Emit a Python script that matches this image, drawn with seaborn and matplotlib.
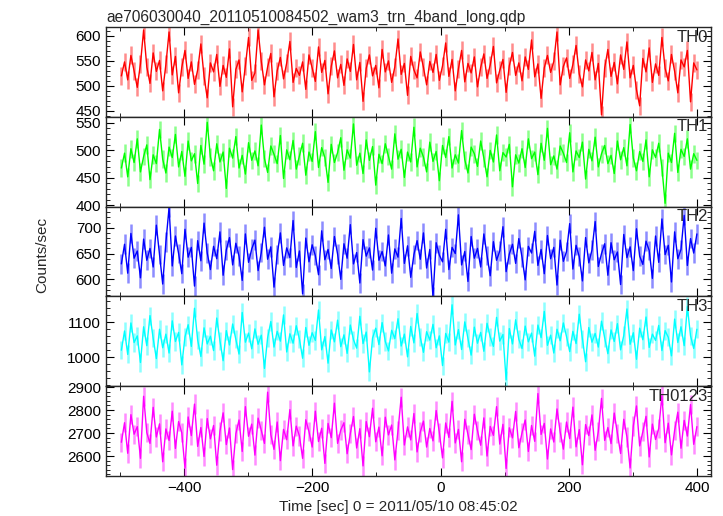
import matplotlib
matplotlib.use("Agg")
import matplotlib.pyplot as plt
from matplotlib.ticker import AutoMinorLocator, MultipleLocator
import numpy as np
import pandas as pd
import seaborn as sns

# Dados (valores aproximados, bins de ~5 s) ----------------------------------------------------
titulo = "ae706030040_20110510084502_wam3_trn_4band_long.qdp"
bandas = ["TH0", "TH1", "TH2", "TH3", "TH0123"]
cores = ["#ff0000", "#00ff00", "#0000ff", "#00ffff", "#ff00ff"]
inicio_t, fim_t = -498, 400

th0 = [520, 548, 512, 561, 530, 497, 544, 612, 538, 505, 566, 529, 551, 490,
       543, 608, 522, 559, 486, 537, 571, 515, 548, 503, 532, 584, 519, 476,
       546, 528, 563, 499, 541, 517, 574, 458, 533, 552, 488, 540, 597, 511,
       526, 612, 549, 502, 538, 565, 478, 530, 557, 514, 546, 589, 507, 535,
       521, 548, 493, 562, 536, 509, 578, 527, 551, 484, 539, 570, 516, 543,
       501, 554, 529, 583, 512, 547, 469, 535, 562, 520, 541, 496, 573, 528,
       550, 507, 538, 594, 523, 545, 481, 559, 532, 516, 568, 537, 502, 549,
       527, 563, 511, 540, 586, 519, 553, 490, 534, 571, 508, 545, 526, 558,
       498, 537, 564, 515, 542, 579, 506, 531, 553, 487, 540, 567, 521, 546,
       510, 558, 533, 592, 518, 544, 475, 536, 561, 527, 549, 608, 502, 539,
       556, 515, 543, 581, 524, 498, 552, 530, 567, 512, 545, 442, 536, 573,
       519, 547, 504, 562, 533, 588, 516, 541, 492, 460, 555, 528, 576, 507,
       544, 521, 597, 535, 510, 563, 529, 486, 552, 538, 571, 468, 546, 532]

th1 = [468, 495, 452, 503, 478, 521, 461, 489, 510, 447, 492, 476, 538, 484,
       459, 506, 487, 529, 470, 498, 453, 517, 481, 494, 440, 509, 475, 551,
       488, 463, 512, 479, 497, 431, 504, 486, 525, 468, 491, 457, 514, 482,
       499, 472, 546, 485, 460, 508, 493, 476, 527, 449, 501, 483, 518, 466,
       490, 513, 455, 497, 480, 534, 469, 505, 487, 442, 511, 478, 496, 523,
       464, 501, 486, 548, 473, 495, 458, 519, 482, 507, 437, 493, 476, 512,
       489, 466, 530, 484, 502, 451, 497, 479, 542, 470, 504, 488, 461, 515,
       480, 498, 445, 509, 487, 525, 468, 492, 477, 536, 483, 459, 506, 494,
       471, 517, 486, 452, 500, 479, 528, 463, 496, 488, 511, 434, 492, 477,
       503, 469, 521, 485, 497, 456, 513, 482, 540, 474, 490, 466, 508, 495,
       478, 532, 461, 499, 487, 515, 448, 502, 481, 524, 470, 494, 509, 476,
       491, 458, 517, 483, 505, 472, 547, 486, 463, 498, 480, 519, 452, 501,
       487, 513, 469, 404, 495, 478, 531, 460, 502, 489, 521, 466, 494, 482]

th2 = [630, 668, 612, 689, 641, 655, 603, 678, 637, 660, 624, 705, 648, 591,
       672, 739, 626, 684, 650, 611, 697, 643, 662, 587, 675, 636, 709, 651,
       619, 664, 640, 692, 608, 657, 681, 628, 670, 645, 598, 688, 633, 659,
       676, 617, 652, 701, 639, 663, 585, 648, 690, 627, 661, 642, 714, 623,
       655, 572, 680, 634, 667, 646, 609, 694, 638, 658, 621, 683, 649, 600,
       669, 641, 706, 630, 652, 593, 677, 645, 661, 618, 699, 637, 654, 626,
       686, 612, 659, 643, 718, 631, 665, 604, 648, 675, 639, 690, 622, 658,
       566, 671, 647, 634, 697, 619, 662, 650, 725, 628, 654, 596, 683, 641,
       660, 624, 688, 646, 607, 673, 637, 655, 702, 615, 649, 668, 631, 679,
       643, 599, 664, 651, 693, 627, 658, 611, 685, 640, 662, 589, 676, 635,
       654, 708, 620, 666, 644, 597, 681, 632, 657, 712, 625, 650, 669, 608,
       671, 638, 653, 590, 687, 642, 663, 617, 698, 645, 629, 674, 656, 602,
       684, 633, 717, 648, 666, 595, 692, 640, 658, 724, 627, 679, 651, 688]

th3 = [1020, 1075, 1008, 1098, 1042, 1061, 985, 1087, 1033, 1119, 1054, 996, 1080, 1027,
       1066, 1012, 1104, 1045, 1071, 978, 1058, 1093, 1031, 1140, 1049, 1002, 1084, 1038,
       1060, 1019, 1112, 1047, 990, 1076, 1035, 1095, 1051, 1009, 1128, 1043, 1069, 1024,
       1081, 1037, 1063, 968, 1056, 1102, 1029, 1074, 1046, 1121, 1015, 1067, 1040, 1090,
       1052, 997, 1085, 1034, 1070, 1048, 1135, 1021, 1059, 983, 1078, 1044, 1106, 1030,
       1064, 1011, 1092, 1050, 1026, 1117, 1039, 1072, 958, 1055, 1083, 1036, 1099, 1045,
       1018, 1077, 1053, 1110, 1032, 1066, 1001, 1088, 1041, 1125, 1057, 1014, 1073, 1049,
       1094, 1027, 1061, 976, 1068, 1043, 1150, 1035, 1079, 1022, 1101, 1054, 1006, 1086,
       1040, 1071, 1017, 1097, 1058, 1031, 1114, 1046, 1065, 935, 1082, 1038, 1107, 1051,
       1025, 1089, 1044, 1069, 1003, 1092, 1056, 1131, 1034, 1063, 1012, 1080, 1047, 1098,
       1059, 1016, 1074, 1039, 1123, 1052, 987, 1085, 1043, 1068, 1029, 1103, 1055, 1010,
       1078, 1045, 1096, 1021, 1062, 1138, 1037, 1070, 994, 1083, 1050, 1115, 1028, 1066,
       1048, 1091, 1019, 1076, 1057, 1004, 1109, 1042, 1087, 1033, 1145, 1061, 1025, 1080]

th0123 = [2660, 2745, 2612, 2780, 2695, 2728, 2590, 2860, 2702, 2655, 2812, 2683, 2740, 2575,
          2718, 2668, 2795, 2633, 2750, 2701, 2548, 2770, 2689, 2826, 2642, 2724, 2598, 2763,
          2675, 2733, 2560, 2708, 2788, 2650, 2722, 2541, 2697, 2757, 2620, 2815, 2686, 2739,
          2604, 2765, 2712, 2655, 2878, 2693, 2629, 2748, 2580, 2716, 2671, 2802, 2644, 2730,
          2687, 2590, 2758, 2706, 2639, 2795, 2663, 2721, 2568, 2742, 2680, 2830, 2655, 2713,
          2745, 2610, 2698, 2772, 2635, 2719, 2557, 2750, 2684, 2808, 2662, 2726, 2601, 2769,
          2692, 2735, 2583, 2711, 2856, 2648, 2727, 2670, 2785, 2618, 2704, 2752, 2639, 2720,
          2666, 2798, 2702, 2592, 2744, 2681, 2838, 2657, 2716, 2575, 2760, 2695, 2628, 2782,
          2710, 2647, 2766, 2600, 2729, 2690, 2815, 2652, 2738, 2546, 2723, 2679, 2794, 2636,
          2701, 2757, 2620, 2733, 2664, 2872, 2694, 2742, 2587, 2718, 2661, 2805, 2705, 2630,
          2748, 2676, 2813, 2640, 2715, 2562, 2737, 2689, 2779, 2625, 2707, 2851, 2668, 2724,
          2654, 2787, 2699, 2611, 2760, 2683, 2548, 2731, 2818, 2644, 2706, 2773, 2596, 2739,
          2672, 2720, 2864, 2658, 2743, 2605, 2712, 2791, 2634, 2755, 2687, 2824, 2651, 2728]

series = [th0, th1, th2, th3, th0123]
erros = [18, 16, 19, 26, 42]  # barras de erro aproximadas (counts/sec)
limites_y = [(438, 618), (398, 561), (567, 741), (917, 1174), (2513, 2904)]
ticks_y = [50, 50, 50, 100, 100]

# Figura ----------------------------------------------------------------------------------------
sns.set_style("ticks")
plt.rcParams["font.family"] = ["Liberation Sans", "DejaVu Sans"]
plt.rcParams["font.size"] = 11

fig, axes = plt.subplots(5, 1, figsize=(7.23, 5.16), dpi=100, sharex=True)
fig.subplots_adjust(left=0.1466, right=0.9834, top=0.9477, bottom=0.0775, hspace=0)

tempo = np.linspace(inicio_t, fim_t, len(th0))

for ax, nome, cor, valores, erro, lim, passo in zip(axes, bandas, cores, series, erros, limites_y, ticks_y):
    df = pd.DataFrame({"tempo": tempo, "taxa": valores})
    # barras de erro claras por baixo da curva
    ax.errorbar(df["tempo"], df["taxa"], yerr=erro, fmt="none", ecolor=cor, alpha=0.45, elinewidth=1.8)
    sns.lineplot(data=df, x="tempo", y="taxa", ax=ax, color=cor, linewidth=1.0)
    ax.set_ylim(*lim)
    ax.set_xlim(-522, 422)
    ax.set_ylabel("")
    ax.set_xlabel("")
    ax.yaxis.set_major_locator(MultipleLocator(passo))
    ax.yaxis.set_minor_locator(AutoMinorLocator(5))
    ax.xaxis.set_major_locator(MultipleLocator(200))
    ax.xaxis.set_minor_locator(AutoMinorLocator(2))
    ax.tick_params(which="both", direction="in", top=True, right=True, colors="black", labelsize=11)
    ax.tick_params(which="major", length=6)
    ax.tick_params(which="minor", length=3)
    for s in ax.spines.values():
        s.set_linewidth(1.0)
    ax.text(0.995, 0.97, nome, transform=ax.transAxes, ha="right", va="top", fontsize=12)

axes[0].set_title(titulo, loc="left", fontsize=11.2, pad=4)
fig.text(0.551, 0.017, "Time [sec] 0 = 2011/05/10 08:45:02", ha="center", va="center", fontsize=11)
fig.text(0.058, 0.506, "Counts/sec", rotation=90, ha="center", va="center", fontsize=11)

fig.savefig("out.png", dpi=100)
